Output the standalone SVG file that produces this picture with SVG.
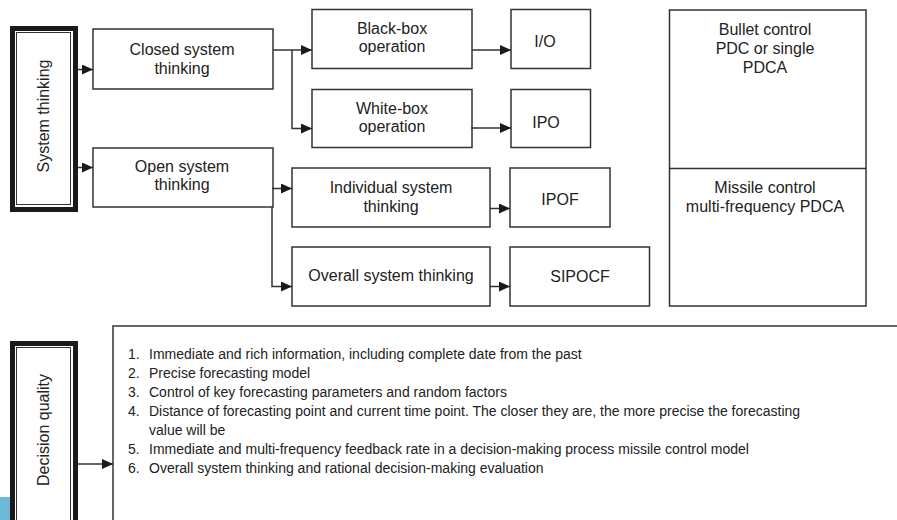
<svg xmlns="http://www.w3.org/2000/svg" width="897" height="520" viewBox="0 0 897 520">
  <style>
    .box { fill: #fff; stroke: #333; stroke-width: 1.5; }
    .frame { fill: #fff; stroke: #1a1a1a; stroke-width: 5; }
    .inner { fill: none; stroke: #333; stroke-width: 1; }
    .lbl { font-family: "Liberation Sans", Arial, sans-serif; font-size: 16px; fill: #222; text-anchor: middle; }
    .list { font-family: "Liberation Sans", Arial, sans-serif; font-size: 14px; fill: #222; }
    .wire { fill: none; stroke: #333; stroke-width: 1.5; }
  </style>
  <defs>
    <marker id="arrow" markerUnits="userSpaceOnUse" markerWidth="11" markerHeight="10" refX="11" refY="5" orient="auto">
      <path d="M0,0 L11,5 L0,10 z" fill="#1a1a1a"/>
    </marker>
  </defs>

  <rect width="897" height="520" fill="#fff"/>

  <!-- corner tab -->
  <rect x="0" y="497" width="10" height="23" fill="#6cb8d9"/>

  <g id="system-thinking">
    <rect class="frame" x="12.5" y="28.5" width="63" height="181"/>
    <rect class="inner" x="16.5" y="32.5" width="54" height="172"/>
    <text class="lbl" transform="translate(49,116) rotate(-90)">System thinking</text>
  </g>

  <g id="closed-system">
    <rect class="box" x="93" y="29" width="180" height="60"/>
    <text class="lbl" x="182" y="55">Closed system</text>
    <text class="lbl" x="182" y="73.5">thinking</text>
  </g>

  <g id="open-system">
    <rect class="box" x="93" y="148" width="180" height="59"/>
    <text class="lbl" x="182" y="171.5">Open system</text>
    <text class="lbl" x="182" y="190">thinking</text>
  </g>

  <g id="black-box">
    <rect class="box" x="312" y="9.5" width="160" height="59"/>
    <text class="lbl" x="392" y="33.5">Black-box</text>
    <text class="lbl" x="392" y="52">operation</text>
  </g>

  <g id="white-box">
    <rect class="box" x="312" y="89.5" width="160" height="58"/>
    <text class="lbl" x="392" y="113.5">White-box</text>
    <text class="lbl" x="392" y="132">operation</text>
  </g>

  <g id="io">
    <rect class="box" x="511" y="9.5" width="79.5" height="59"/>
    <text class="lbl" x="545" y="47">I/O</text>
  </g>

  <g id="ipo">
    <rect class="box" x="511" y="89.5" width="79.5" height="58"/>
    <text class="lbl" x="546" y="127.5">IPO</text>
  </g>

  <g id="individual-system">
    <rect class="box" x="292" y="168" width="198" height="59"/>
    <text class="lbl" x="391" y="192.5">Individual system</text>
    <text class="lbl" x="391" y="211.5">thinking</text>
  </g>

  <g id="overall-system">
    <rect class="box" x="292" y="247" width="198" height="59"/>
    <text class="lbl" x="391" y="280.5">Overall system thinking</text>
  </g>

  <g id="ipof">
    <rect class="box" x="510" y="168" width="100" height="59"/>
    <text class="lbl" x="560" y="204.5">IPOF</text>
  </g>

  <g id="sipocf">
    <rect class="box" x="510" y="247" width="139.5" height="59"/>
    <text class="lbl" x="580" y="281.5">SIPOCF</text>
  </g>

  <g id="control-modes">
    <rect class="box" x="669.5" y="10" width="196.5" height="296"/>
    <line class="wire" x1="669.5" y1="168.5" x2="866" y2="168.5"/>
    <text class="lbl" x="765" y="34.5">Bullet control</text>
    <text class="lbl" x="765" y="53.5">PDC or single</text>
    <text class="lbl" x="765" y="72.5">PDCA</text>
    <text class="lbl" x="765" y="192.5">Missile control</text>
    <text class="lbl" x="765" y="211.5">multi-frequency PDCA</text>
  </g>

  <g id="decision-quality">
    <rect class="frame" x="12.5" y="343.5" width="63" height="200"/>
    <rect class="inner" x="16.5" y="347.5" width="54" height="190"/>
    <text class="lbl" transform="translate(49,430) rotate(-90)">Decision quality</text>
  </g>

  <g id="quality-factors">
    <rect class="box" x="113" y="326" width="800" height="220"/>
    <text class="list" x="128" y="358.5">1.</text>
    <text class="list" x="149" y="358.5">Immediate and rich information, including complete date from the past</text>
    <text class="list" x="128" y="377.5">2.</text>
    <text class="list" x="149" y="377.5">Precise forecasting model</text>
    <text class="list" x="128" y="396.5">3.</text>
    <text class="list" x="149" y="396.5">Control of key forecasting parameters and random factors</text>
    <text class="list" x="128" y="415.5">4.</text>
    <text class="list" x="149" y="415.5">Distance of forecasting point and current time point. The closer they are, the more precise the forecasting</text>
    <text class="list" x="149" y="434.5">value will be</text>
    <text class="list" x="128" y="453.5">5.</text>
    <text class="list" x="149" y="453.5">Immediate and multi-frequency feedback rate in a decision-making process missile control model</text>
    <text class="list" x="128" y="472.5">6.</text>
    <text class="list" x="149" y="472.5">Overall system thinking and rational decision-making evaluation</text>
  </g>

  <g id="connectors">
    <line class="wire" x1="78" y1="69.5" x2="93" y2="69.5" marker-end="url(#arrow)"/>
    <line class="wire" x1="78" y1="167.5" x2="93" y2="167.5" marker-end="url(#arrow)"/>
    <line class="wire" x1="273" y1="50" x2="312" y2="50" marker-end="url(#arrow)"/>
    <polyline class="wire" points="292,50 292,128.5 312,128.5" marker-end="url(#arrow)"/>
    <line class="wire" x1="472" y1="50" x2="511" y2="50" marker-end="url(#arrow)"/>
    <line class="wire" x1="471" y1="128" x2="511" y2="128" marker-end="url(#arrow)"/>
    <line class="wire" x1="272" y1="188.5" x2="292" y2="188.5" marker-end="url(#arrow)"/>
    <polyline class="wire" points="272,207 272,286.5 292,286.5" marker-end="url(#arrow)"/>
    <line class="wire" x1="490" y1="208.5" x2="510" y2="208.5" marker-end="url(#arrow)"/>
    <line class="wire" x1="490" y1="286.5" x2="510" y2="286.5" marker-end="url(#arrow)"/>
    <line class="wire" x1="78" y1="464" x2="113" y2="464" marker-end="url(#arrow)"/>
  </g>
</svg>
